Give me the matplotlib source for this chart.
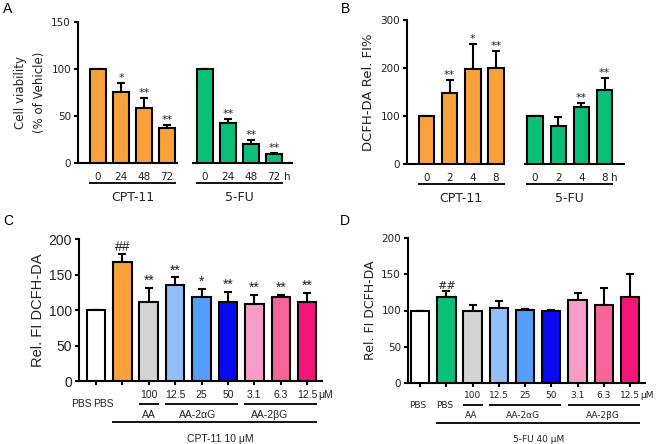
import matplotlib
matplotlib.use('Agg')
import matplotlib.pyplot as plt
import numpy as np

W, H = 663, 444
EDGE = 1.5
SPACED = 'DejaVu Sans'
ARIAL = 'Liberation Sans'
TEXT_COLOR = '#222222'

# ---- panel A: cell viability
a_labels = ['0', '24', '48', '72', '0', '24', '48', '72']
a_means = [100, 75, 58, 37, 100, 43, 20, 9.5]
a_sd = [0, 10, 11, 3.5, 0, 4, 4, 1]
a_marks = ['', '*', '**', '**', '', '**', '**', '**']
a_groups = ['CPT-11', '5-FU']

# ---- panel B: DCFH-DA after drug
b_labels = ['0', '2', '4', '8', '0', '2', '4', '8']
b_means = [100, 148, 198, 201, 100, 79, 119, 154]
b_sd = [0, 28, 51, 35, 0, 18, 9, 26]
b_marks = ['', '**', '*', '**', '', '', '**', '**']
b_groups = ['CPT-11', '5-FU']

# ---- panels C and D: antioxidants
dose_labels = ['', '', '100', '12.5', '25', '50', '3.1', '6.3', '12.5']
c_means = [100, 168, 111, 135, 118, 111, 109, 119, 111]
c_sd = [0, 11, 20, 11, 12, 15, 12, 2, 13]
c_marks = ['', '##', '**', '**', '*', '**', '**', '**', '**']
d_means = [100, 118, 99, 103, 100.5, 100, 115, 107, 119]
d_sd = [0, 9, 8, 10, 1, 0.5, 9, 24, 32]
d_marks = ['', '##', '', '', '', '', '', '', '']

two_colors = ['#F9A23C', '#0ABF78']
c_colors = ['#FFFFFF', '#F9A23C', '#D4D4D4', '#90BFF9', '#559EF9',
            '#0A0AF2', '#F99CC9', '#F7649A', '#F2167A']
d_colors = ['#FFFFFF', '#0ABF78'] + c_colors[2:]


def px_axes(fig, left, top, right, bottom):
    return fig.add_axes([left / W, 1 - bottom / H,
                         (right - left) / W, (bottom - top) / H])


def style_axes(ax, font, size):
    for side in ['top', 'right']:
        ax.spines[side].set_visible(False)
    ax.spines['left'].set_linewidth(EDGE)
    ax.spines['bottom'].set_linewidth(EDGE)
    ax.tick_params(axis='y', direction='out', length=3, width=EDGE,
                   pad=2, labelsize=size, labelcolor=TEXT_COLOR)
    for t in ax.get_yticklabels():
        t.set_fontfamily(font)


def draw_bars(ax, x, means, sd, colors, marks, width, font, size):
    ax.errorbar(x, means, yerr=[np.zeros(len(sd)), sd], fmt='none',
                ecolor='black', elinewidth=EDGE, capsize=3, capthick=EDGE,
                zorder=2)
    ax.bar(x, means, width=width, color=colors, edgecolor='black',
           linewidth=EDGE, zorder=3)
    for xi, m, s, mark in zip(x, means, sd, marks):
        if mark:
            ax.annotate(mark, (xi, m + s), xytext=(0, 0),
                        textcoords='offset points', ha='center',
                        va='bottom', fontsize=size, family=font,
                        color=TEXT_COLOR)


def below(ax, px):
    return -px / ax.bbox.height


def hline_below(ax, x0, x1, px, lw=1.3):
    ax.plot([x0, x1], [below(ax, px)] * 2, color='black', lw=lw,
            transform=ax.get_xaxis_transform(), clip_on=False,
            solid_capstyle='butt')


def text_below(ax, x, px, s, font, size, ha='center'):
    ax.text(x, below(ax, px), s, transform=ax.get_xaxis_transform(),
            ha=ha, va='center', fontsize=size, family=font,
            color=TEXT_COLOR)


def time_panel(fig, box, gap, xlim, means, sd, labels, marks, groups,
               yticks, ylabel, ylsize, base_cut, h_x):
    ax = px_axes(fig, *box)
    x = np.array([0, 1, 2, 3, 3 + gap, 4 + gap, 5 + gap, 6 + gap])
    colors = [two_colors[0]] * 4 + [two_colors[1]] * 4
    draw_bars(ax, x, means, sd, colors, marks, 0.66, SPACED, 8)
    ax.set_xlim(*xlim)
    ax.set_ylim(0, yticks[-1])
    ax.set_yticks(yticks)
    ax.set_xticks([])
    style_axes(ax, SPACED, 7.5)
    ax.spines['bottom'].set_visible(False)
    # split baseline
    ax.plot([xlim[0], x[3] + base_cut[0]], [0, 0], color='black', lw=EDGE,
            clip_on=False, solid_capstyle='butt')
    ax.plot([x[4] - base_cut[1], xlim[1]], [0, 0], color='black', lw=EDGE,
            clip_on=False, solid_capstyle='butt')
    for xi, lab in zip(x, labels):
        text_below(ax, xi, 14, lab, SPACED, 7.5)
    text_below(ax, h_x, 14, 'h', SPACED, 7.5)
    for i, g in enumerate(groups):
        xs = x[4 * i:4 * i + 4]
        hline_below(ax, xs[0] - 0.38, xs[-1] + 0.38, 20)
        text_below(ax, xs.mean(), 34, g, SPACED, 9)
    ax.set_ylabel(ylabel, fontsize=ylsize, family=SPACED, color=TEXT_COLOR,
                  labelpad=4, linespacing=1.6)
    return ax


def dose_panel(fig, box, xlim, means, sd, colors, marks, font, tsize,
               lsize, ylabel, ylsize, mark_size, pbs_x, group_x, drug,
               drug_x, offs):
    ax = px_axes(fig, *box)
    x = np.arange(len(means))
    draw_bars(ax, x, means, sd, colors, marks, 0.7, font, mark_size)
    ax.set_xlim(*xlim)
    ax.set_ylim(0, 200)
    ax.set_yticks([0, 50, 100, 150, 200])
    ax.set_xticks(x)
    ax.set_xticklabels([])
    style_axes(ax, font, tsize)
    ax.tick_params(axis='x', direction='out', length=3, width=EDGE)
    num_px, pbs_px, grp_px, long_px, drug_px = offs
    for xi, lab in zip(x, dose_labels):
        if lab:
            text_below(ax, xi, num_px, lab, font, lsize)
    text_below(ax, x[-1] + 0.4, num_px, 'μM', font, lsize, ha='left')
    for px_ in pbs_x:
        text_below(ax, px_, pbs_px, 'PBS', font, lsize)
    spans = [(2, 2), (3, 5), (6, 8)]
    names = ['AA', 'AA-2αG', 'AA-2βG']
    for (i0, i1), name, gx in zip(spans, names, group_x):
        hline_below(ax, x[i0] - 0.38, x[i1] + 0.38, pbs_px)
        text_below(ax, gx, grp_px, name, font, lsize)
    hline_below(ax, x[1] - 0.38, x[-1] + 0.38, long_px)
    text_below(ax, drug_x, drug_px, drug, font, lsize)
    ax.set_ylabel(ylabel, fontsize=ylsize, family=font, color=TEXT_COLOR,
                  labelpad=3)
    return ax


def main():
    fig = plt.figure(figsize=(W / 100, H / 100), dpi=100)

    time_panel(fig, (78, 22, 293, 163), 1.65, (-0.87, 8.48), a_means, a_sd,
               a_labels, a_marks, a_groups, [0, 50, 100, 150],
               'Cell viability\n(% of Vehicle)', 8.5, (0.48, 0.56), 8.22)
    time_panel(fig, (407, 20, 625, 164), 1.68, (-0.84, 8.56), b_means, b_sd,
               b_labels, b_marks, b_groups, [0, 100, 200, 300],
               'DCFH-DA Rel. FI%', 9.5, (0.38, 0.48), 8.12)

    dose_panel(fig, (79, 239, 322, 381), (-0.64, 8.56), c_means, c_sd,
               c_colors, c_marks, ARIAL, 10, 7.5, 'Rel. FI DCFH-DA', 10.5,
               10, (-0.53, 0.27), (2, 3.86, 6.59), 'CPT-11 10 μM', 4.7,
               (14, 23, 34, 41, 58))
    dose_panel(fig, (408, 238, 645, 383), (-0.46, 8.57), d_means, d_sd,
               d_colors, d_marks, SPACED, 7.5, 6.5, 'Rel. FI DCFH-DA', 9,
               8, (-0.08, 0.95), (1.94, 3.92, 6.97), '5-FU 40 μM', 4.53,
               (13, 22, 32, 40, 56))

    for lab, xp, yp in [('A', 8, 9), ('B', 346, 9), ('C', 8, 221),
                        ('D', 345, 221)]:
        fig.text(xp / W, 1 - yp / H, lab, fontsize=10, family=ARIAL,
                 ha='center', va='center')

    fig.savefig('out.png', dpi=100)


if __name__ == '__main__':
    main()
